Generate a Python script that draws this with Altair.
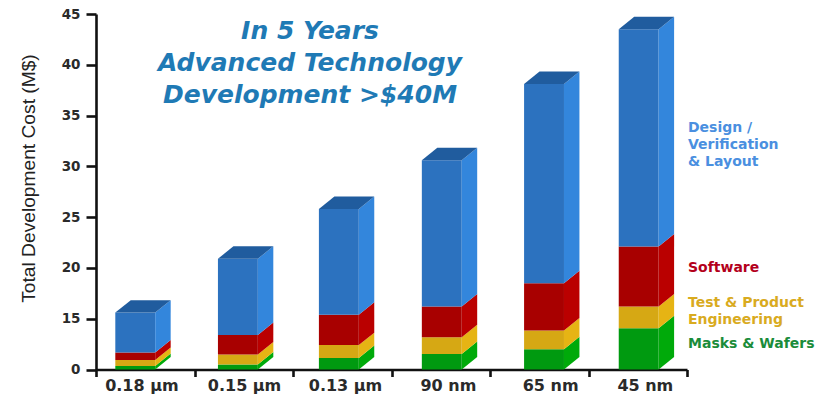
import altair as alt
import pandas as pd

# Process nodes and the cost of each layer of the stack, in M$
nodes = ["0.18 µm", "0.15 µm", "0.13 µm", "90 nm", "65 nm", "45 nm"]
masks = [1.0, 1.5, 3.4, 4.6, 6.0, 12.2]
test = [1.8, 2.9, 3.8, 4.9, 5.5, 4.0]
software = [2.2, 5.8, 8.2, 6.7, 7.0, 5.9]
design = [10.6, 10.7, 10.4, 14.4, 19.6, 21.4]

layers = ["masks", "test", "software", "design"]
layer_values = {"masks": masks, "test": test, "software": software, "design": design}
front_colors = {"masks": "#009a10", "test": "#d6a814", "software": "#a80000", "design": "#2c72bf"}
side_colors = {"masks": "#00aa0a", "test": "#e6b414", "software": "#ba0000", "design": "#3386dc"}
top_color = "#205c9e"

# Column placement and 3D look, in axis units
COLUMN_LEFTS = [0.196, 1.238, 2.263, 3.308, 4.346, 5.307]
BAR_W = 0.405
DEPTH_X = 0.157
DEPTH_Y = 1.23
LABEL_SHIFT = 0.27

TEXT_FONT = "DejaVu Sans"


def axis_pos(v):
    # The axis jumps from 0 straight to 15 in a single tick step
    return v / 3 if v <= 15 else v - 10


front_rows, side_rows, top_rows, label_rows = [], [], [], []
for i, node in enumerate(nodes):
    left = COLUMN_LEFTS[i]
    right = left + BAR_W
    base = 0.0
    for layer in layers:
        top = base + layer_values[layer][i]
        y0, y1 = axis_pos(base), axis_pos(top)
        front_rows.append(dict(left=left, right=right, y0=y0, y1=y1, color=front_colors[layer]))
        key = f"{node}-{layer}"
        side_rows.append(dict(key=key, x=right, y0=y0, y1=y1, color=side_colors[layer]))
        side_rows.append(dict(key=key, x=right + DEPTH_X, y0=y0 + DEPTH_Y, y1=y1 + DEPTH_Y, color=side_colors[layer]))
        base = top
    top_y = axis_pos(base)
    top_rows.append(dict(node=node, y=top_y, x0=left, x1=right))
    top_rows.append(dict(node=node, y=top_y + DEPTH_Y, x0=left + DEPTH_X, x1=right + DEPTH_X))
    label_rows.append(dict(node=node, x=left + LABEL_SHIFT))

x_scale = alt.Scale(domain=[0, 6], nice=False, zero=False)
y_scale = alt.Scale(domain=[0, 35], nice=False, zero=False)

x_axis = alt.Axis(
    values=list(range(7)), labels=False, title=None, grid=False,
    domainColor="#111111", domainWidth=2.6, tickColor="#111111", tickWidth=2.6, tickSize=7,
)
y_axis = alt.Axis(
    values=list(range(0, 36, 5)),
    labelExpr="datum.value == 0 ? '0' : datum.value + 10",
    title="Total Development Cost (M$)",
    titleFont="Liberation Sans", titleFontWeight="normal", titleFontSize=19.2, titleColor="#222222",
    titlePadding=23, titleY=164,
    labelFont=TEXT_FONT, labelFontWeight="bold", labelFontSize=13.5, labelColor="#2a2a2a",
    labelPadding=6, grid=False,
    domainColor="#111111", domainWidth=2.6, tickColor="#111111", tickWidth=2.6, tickSize=10,
)

front = alt.Chart(pd.DataFrame(front_rows)).mark_rect().encode(
    x=alt.X("left:Q", scale=x_scale, axis=x_axis),
    x2="right:Q",
    y=alt.Y("y0:Q", scale=y_scale, axis=y_axis),
    y2="y1:Q",
    color=alt.Color("color:N", scale=None),
)
side = alt.Chart(pd.DataFrame(side_rows)).mark_area(interpolate="linear").encode(
    x=alt.X("x:Q", scale=x_scale),
    y=alt.Y("y0:Q", scale=y_scale, stack=None),
    y2="y1:Q",
    detail="key:N",
    color=alt.Color("color:N", scale=None),
)
top_face = alt.Chart(pd.DataFrame(top_rows)).mark_area(orient="horizontal", color=top_color).encode(
    y=alt.Y("y:Q", scale=y_scale),
    x=alt.X("x0:Q", scale=x_scale, stack=None),
    x2="x1:Q",
    detail="node:N",
)
node_labels = alt.Chart(pd.DataFrame(label_rows)).mark_text(
    font=TEXT_FONT, fontWeight="bold", fontSize=16, color="#2a2a2a", baseline="middle",
).encode(
    x=alt.X("x:Q", scale=x_scale),
    y=alt.value(372),
    text="node:N",
)

canvas = alt.Data(values=[{}])


def caption(text, x, y, color, size, style=None, align="left"):
    props = dict(font=TEXT_FONT, fontWeight="bold", fontSize=size, color=color,
                 align=align, baseline="middle")
    if style:
        props["fontStyle"] = style
    return alt.Chart(canvas).mark_text(**props).encode(
        x=alt.value(x), y=alt.value(y), text=alt.value(text)
    )


HEADLINE = "#1f7ab5"
captions = [
    caption("In 5 Years", 214, 17, HEADLINE, 25, "italic", "center"),
    caption("Advanced Technology", 214, 49, HEADLINE, 25, "italic", "center"),
    caption("Development >$40M", 214, 81, HEADLINE, 25, "italic", "center"),
    caption("Design /", 592, 114, "#4a8fe0", 14),
    caption("Verification", 592, 131, "#4a8fe0", 14),
    caption("& Layout", 592, 148, "#4a8fe0", 14),
    caption("Software", 592, 254, "#b3001b", 14),
    caption("Test & Product", 592, 289, "#d9ab1f", 14),
    caption("Engineering", 592, 306, "#d9ab1f", 14),
    caption("Masks & Wafers", 592, 330, "#1a8c3a", 14),
]

chart = alt.layer(front, side, top_face, node_labels, *captions).properties(
    width=591,
    height=355.5,
    autosize=alt.AutoSizeParams(type="none"),
    padding={"left": 96, "top": 14, "right": 137, "bottom": 26.5},
    background="white",
).configure_view(stroke=None)

chart.save("out.html", embed_options={"renderer": "svg", "actions": False})
